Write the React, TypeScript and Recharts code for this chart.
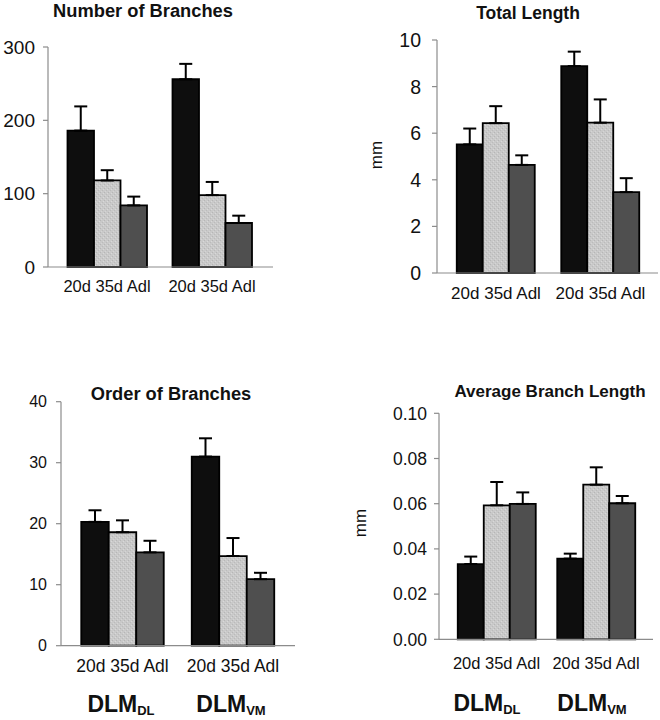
import React from 'react'
import { BarChart, Bar, XAxis, YAxis, ErrorBar } from 'recharts'

const GROUPS = ['DLM_DL', 'DLM_VM']
const AGE_LABEL = '20d 35d Adl'

// Number of Branches
const branches20 = [186, 256]
const branches20Err = [33, 21]
const branches35 = [118, 98]
const branches35Err = [14, 18]
const branchesAdl = [84, 60]
const branchesAdlErr = [12, 10]

// Total Length (mm)
const length20 = [5.52, 8.88]
const length20Err = [0.68, 0.62]
const length35 = [6.43, 6.45]
const length35Err = [0.73, 1.0]
const lengthAdl = [4.64, 3.47]
const lengthAdlErr = [0.41, 0.6]

// Order of Branches
const order20 = [20.3, 31.0]
const order20Err = [1.9, 3.0]
const order35 = [18.6, 14.7]
const order35Err = [1.95, 2.95]
const orderAdl = [15.3, 10.9]
const orderAdlErr = [1.9, 1.05]

// Average Branch Length (mm)
const avg20 = [0.0333, 0.0357]
const avg20Err = [0.0033, 0.0022]
const avg35 = [0.0593, 0.0684]
const avg35Err = [0.0103, 0.0077]
const avgAdl = [0.0599, 0.0602]
const avgAdlErr = [0.0051, 0.0032]

const BLACK = '#0e0e0e'
const DARK = '#4f4f4f'
const AXIS = '#8c8c8c'
const FONT = '"Liberation Sans", Arial, sans-serif'

const rows = (a: number[], ae: number[], b: number[], be: number[], c: number[], ce: number[]) =>
  GROUPS.map((g, i) => ({
    name: g,
    d20: a[i], d20e: [0, ae[i]],
    d35: b[i], d35e: [0, be[i]],
    adl: c[i], adle: [0, ce[i]],
  }))

const panels = [
  {
    id: 'p1', left: 0, top: 0, width: 290, height: 300,
    margin: { top: 47, right: 17, bottom: 3, left: 0 }, yWidth: 48,
    domain: [0, 300], ticks: [0, 100, 200, 300], fmt: (v: number) => `${v}`,
    yFs: 19, yGap: 8, xFs: 16.5, xGap: 8, pad: { left: 6.5, right: 8.5 }, barSize: 26.5,
    data: rows(branches20, branches20Err, branches35, branches35Err, branchesAdl, branchesAdlErr),
  },
  {
    id: 'p2', left: 330, top: 0, width: 330, height: 310,
    margin: { top: 40, right: 2, bottom: 7, left: 0 }, yWidth: 107,
    domain: [0, 10], ticks: [0, 2, 4, 6, 8, 10], fmt: (v: number) => `${v}`,
    yFs: 19.5, yGap: 11, xFs: 17, xGap: 9, pad: { left: 6.75, right: 5.25 }, barSize: 26,
    data: rows(length20, length20Err, length35, length35Err, lengthAdl, lengthAdlErr),
  },
  {
    id: 'p3', left: 0, top: 360, width: 310, height: 320,
    margin: { top: 41.7, right: 15, bottom: 4.3, left: 0 }, yWidth: 61,
    domain: [0, 40], ticks: [0, 10, 20, 30, 40], fmt: (v: number) => `${v}`,
    yFs: 16, yGap: 9, xFs: 17.5, xGap: 9, pad: { left: 6.25, right: 6.75 }, barSize: 27.5,
    data: rows(order20, order20Err, order35, order35Err, orderAdl, orderAdlErr),
  },
  {
    id: 'p4', left: 330, top: 360, width: 330, height: 320,
    margin: { top: 53.3, right: 7, bottom: 10.7, left: 0 }, yWidth: 109,
    domain: [0, 0.1], ticks: [0, 0.02, 0.04, 0.06, 0.08, 0.1], fmt: (v: number) => v.toFixed(2),
    yFs: 17.5, yGap: 7, xFs: 16.5, xGap: 13, pad: { left: 7.75, right: 7.25 }, barSize: 26,
    data: rows(avg20, avg20Err, avg35, avg35Err, avgAdl, avgAdlErr),
  },
]

const titles = [
  { text: 'Number of Branches', x: 143, y: 11, fs: 18.3 },
  { text: 'Total Length', x: 528, y: 12.5, fs: 17.5 },
  { text: 'Order of Branches', x: 171, y: 394, fs: 18.3 },
  { text: 'Average Branch Length', x: 550, y: 392, fs: 17 },
]

const unitLabels = [
  { x: 376.5, y: 155 },
  { x: 360.5, y: 523 },
]

const groupLabels = [
  { main: 'DLM', sub: 'DL', x: 121, y: 704 },
  { main: 'DLM', sub: 'VM', x: 231, y: 704 },
  { main: 'DLM', sub: 'DL', x: 487, y: 703 },
  { main: 'DLM', sub: 'VM', x: 592, y: 703 },
]

function Panel({ p }: { p: typeof panels[number] }) {
  const stipple = `stipple-${p.id}`
  return (
    <div style={{ position: 'absolute', left: p.left, top: p.top }}>
      <BarChart width={p.width} height={p.height} data={p.data} margin={p.margin} barGap={0} barSize={p.barSize}>
        <defs>
          <pattern id={stipple} width="4" height="4" patternUnits="userSpaceOnUse">
            <rect width="4" height="4" fill="#c9c9c9" />
            <rect x="0" y="0" width="1" height="1" fill="#b6b6b6" />
            <rect x="2" y="2" width="1" height="1" fill="#bbbbbb" />
            <rect x="3" y="1" width="1" height="1" fill="#d9d9d9" />
            <rect x="1" y="3" width="1" height="1" fill="#d5d5d5" />
          </pattern>
        </defs>
        <XAxis
          dataKey="name"
          interval={0}
          tickFormatter={() => AGE_LABEL}
          tickLine={false}
          tickSize={5}
          tickMargin={p.xGap}
          height={30}
          padding={p.pad}
          axisLine={{ stroke: AXIS, strokeWidth: 1.2 }}
          tick={{ fill: '#111', fontSize: p.xFs }}
        />
        <YAxis
          width={p.yWidth}
          domain={p.domain}
          ticks={p.ticks}
          tickFormatter={p.fmt}
          interval={0}
          tickSize={5}
          tickMargin={p.yGap}
          axisLine={{ stroke: AXIS, strokeWidth: 1.2 }}
          tickLine={{ stroke: AXIS, strokeWidth: 1.2 }}
          tick={{ fill: '#111', fontSize: p.yFs }}
        />
        <Bar dataKey="d20" fill={BLACK} stroke="#000" strokeWidth={1.8} isAnimationActive={false}>
          <ErrorBar dataKey="d20e" width={6.5} stroke="#000" strokeWidth={2} />
        </Bar>
        <Bar dataKey="d35" fill={`url(#${stipple})`} stroke="#000" strokeWidth={1.8} isAnimationActive={false}>
          <ErrorBar dataKey="d35e" width={6.5} stroke="#000" strokeWidth={2} />
        </Bar>
        <Bar dataKey="adl" fill={DARK} stroke="#000" strokeWidth={1.8} isAnimationActive={false}>
          <ErrorBar dataKey="adle" width={6.5} stroke="#000" strokeWidth={2} />
        </Bar>
      </BarChart>
    </div>
  )
}

export default function App() {
  return (
    <div style={{ position: 'absolute', left: 0, top: 0, width: 660, height: 720, background: '#fff', fontFamily: FONT, color: '#111' }}>
      {panels.map(p => <Panel key={p.id} p={p} />)}

      {titles.map(t => (
        <div key={t.text} style={{ position: 'absolute', left: t.x - 150, top: t.y - 10, width: 300, lineHeight: '20px', textAlign: 'center', fontSize: t.fs, fontWeight: 'bold' }}>
          {t.text}
        </div>
      ))}

      {unitLabels.map((u, i) => (
        <div key={i} style={{ position: 'absolute', left: u.x - 20, top: u.y - 10, width: 40, height: 20, lineHeight: '20px', textAlign: 'center', fontSize: 17, transform: 'rotate(-90deg)' }}>
          mm
        </div>
      ))}

      {groupLabels.map((g, i) => (
        <div key={i} style={{ position: 'absolute', left: g.x - 60, top: g.y - 14, width: 120, lineHeight: '28px', textAlign: 'center', fontSize: 23, fontWeight: 'bold' }}>
          {g.main}
          <span style={{ fontSize: 13, position: 'relative', top: 3 }}>{g.sub}</span>
        </div>
      ))}
    </div>
  )
}
